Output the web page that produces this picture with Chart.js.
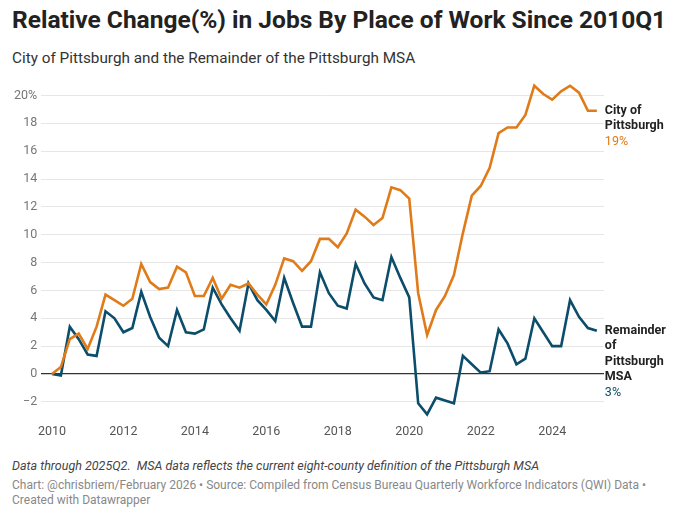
<!DOCTYPE html>
<html><head><meta charset="utf-8">
<script src="https://cdn.jsdelivr.net/npm/chart.js@4"></script>
<style>
body{margin:0;background:#fff;font-family:Roboto,sans-serif;width:680px;height:519px;overflow:hidden;position:relative}
#t{position:absolute;left:12px;top:5px;font-size:24.5px;font-weight:700;color:#222}
#s{position:absolute;left:12px;top:49px;font-size:15.3px;color:#333}
#c{position:absolute;left:0;top:77px;width:680px;height:365px}
#n{position:absolute;left:12px;top:458px;font-size:12.5px;font-style:italic;color:#444}
#f{position:absolute;left:12px;top:478px;font-size:12px;color:#888;line-height:15px;width:660px}
</style></head><body>
<div id="t">Relative Change(%) in Jobs By Place of Work Since 2010Q1</div>
<div id="s">City of Pittsburgh and the Remainder of the Pittsburgh MSA</div>
<div id="c"><canvas id="cv"></canvas></div>
<div id="n">Data through 2025Q2.&nbsp; MSA data reflects the current eight-county definition of the Pittsburgh MSA</div>
<div id="f">Chart: @chrisbriem/February 2026 • Source: Compiled from Census Bureau Quarterly Workforce Indicators (QWI) Data •<br>Created with Datawrapper</div>
<script>
const startYear = 2010;
const city = [0,0.5,2.5,2.9, 1.8,3.4,5.7,5.3, 4.9,5.4,7.9,6.6, 6.1,6.2,7.7,7.3, 5.6,5.6,6.9,5.4, 6.4,6.2,6.5,5.7, 5.0,6.4,8.3,8.1, 7.4,8.1,9.7,9.7, 9.1,10.1,11.8,11.3, 10.7,11.2,13.4,13.2, 12.6,5.8,2.8,4.6, 5.6,7.1,10.1,12.8, 13.5,14.8,17.3,17.7, 17.7,18.6,20.7,20.1, 19.7,20.3,20.7,20.2, 18.9,18.9];
const msa = [0,-0.1,3.4,2.5, 1.4,1.3,4.5,4.0, 3.0,3.3,5.9,4.1, 2.6,2.0,4.6,3.0, 2.9,3.2,6.2,5.0, 4.0,3.1,6.5,5.3, 4.6,3.8,6.9,5.1, 3.4,3.4,7.3,5.8, 4.9,4.7,7.9,6.5, 5.5,5.3,8.4,6.9, 5.5,-2.1,-2.9,-1.7, -1.9,-2.1,1.3,0.7, 0.1,0.2,3.2,2.2, 0.7,1.1,4.0,3.0, 2.0,2.0,5.3,4.1, 3.3,3.1];
const xTicks = [2010,2012,2014,2016,2018,2020,2022,2024];
const yTicks = [-2,0,2,4,6,8,10,12,14,16,18,20];
const toPts = a => a.map((v,i)=>({x:startYear+i/4,y:v}));
const labels = [
 {ds:0, lines:["City of","Pittsburgh"], val:"19%", color:"#e07b1a", dy:0},
 {ds:1, lines:["Remainder","of","Pittsburgh","MSA"], val:"3%", color:"#0b4d6b", dy:0}
];
const endLabels = {id:'endLabels', afterDraw(ch){
  const c=ch.ctx; c.save();
  labels.forEach(l=>{
    const d=ch.data.datasets[l.ds].data; const p=d[d.length-1];
    const x=ch.scales.x.getPixelForValue(p.x)+8; let y=ch.scales.y.getPixelForValue(p.y)+l.dy;
    c.font='bold 12.5px Roboto'; c.fillStyle='#222'; c.textBaseline='middle';
    l.lines.forEach(t=>{c.fillText(t,x,y); y+=15.5;});
    c.font='12.5px Roboto'; c.fillStyle=l.color; c.fillText(l.val,x,y);
  });
  c.restore();
}};
new Chart(document.getElementById('cv'),{
 type:'line',
 data:{datasets:[
  {data:toPts(city),borderColor:'#e07b1a',borderWidth:2.6,pointRadius:0,tension:0,clip:false},
  {data:toPts(msa),borderColor:'#0b4d6b',borderWidth:2.6,pointRadius:0,tension:0,clip:false}
 ]},
 options:{animation:false,responsive:true,maintainAspectRatio:false,
  layout:{padding:{left:10,right:76,top:0,bottom:0}},
  plugins:{legend:{display:false},tooltip:{enabled:false}},
  scales:{
   x:{type:'linear',min:2009.7,max:2025.45,
      afterBuildTicks:a=>{a.ticks=xTicks.map(v=>({value:v}));},
      ticks:{color:'#555',font:{family:'Roboto',size:12.5},callback:v=>String(v),maxRotation:0},
      grid:{display:false},border:{display:false}},
   y:{min:-2.8,max:20.5,
      afterBuildTicks:a=>{a.ticks=yTicks.map(v=>({value:v}));},
      ticks:{color:'#777',font:{family:'Roboto',size:12.5},padding:4,callback:v=>v===20?'20%':(v<0?'−'+Math.abs(v):String(v))},
      grid:{color:c=>c.tick&&c.tick.value===0?'#333':'#e6e6e6',lineWidth:c=>c.tick&&c.tick.value===0?1.2:1,drawTicks:false},
      border:{display:false}}
  }},
 plugins:[endLabels]
});
</script></body></html>
